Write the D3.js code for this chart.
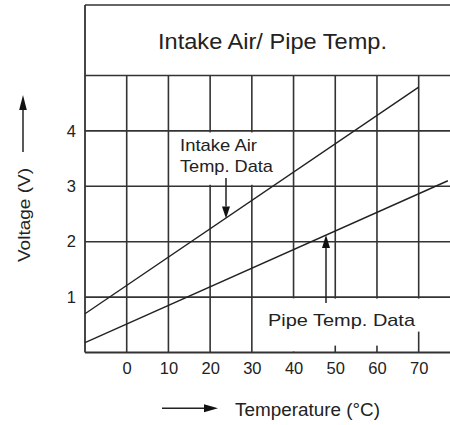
<!DOCTYPE html>
<html><head><meta charset="utf-8">
<script src="https://cdn.jsdelivr.net/npm/d3@7"></script>
<style>
html,body{margin:0;padding:0;background:#fff;}
svg text{font-family:"Liberation Sans",Arial,Helvetica,sans-serif;fill:#222;}
</style></head>
<body><svg id="c" width="450" height="425"></svg>
<script>
const title = "Intake Air/ Pipe Temp.";
const xLabel = "Temperature (°C)";
const yLabel = "Voltage (V)";
const xTicks = [0, 10, 20, 30, 40, 50, 60, 70];
const xGrid = [0, 10, 20, 30, 40, 50, 60, 70];
const yTicks = [1, 2, 3, 4];
const intakeTemp = [-10, 70];
const intakeVolt = [0.70, 4.79];
const pipeTemp = [-10, 77];
const pipeVolt = [0.18, 3.10];
const intakeLabel = ["Intake Air", "Temp. Data"];
const pipeLabel = "Pipe Temp. Data";

const svg = d3.select("#c");
const x = d3.scaleLinear().domain([-10, 80]).range([85, 85 + 90 * 4.171]);
const y = d3.scaleLinear().domain([0, 5]).range([352.5, 75.5]);
const stroke = "#333";
const W = 450;

// grid
const g = svg.append("g");
g.selectAll("line.v").data(xGrid).join("line").attr("class", "v")
  .attr("x1", d => x(d)).attr("x2", d => x(d))
  .attr("y1", y(5)).attr("y2", y(0))
  .attr("stroke", stroke).attr("stroke-width", 1.6);
g.selectAll("line.h").data(yTicks.concat([5])).join("line").attr("class", "h")
  .attr("x1", x(-10)).attr("x2", W)
  .attr("y1", d => y(d)).attr("y2", d => y(d))
  .attr("stroke", stroke).attr("stroke-width", 1.6);

// white label backgrounds that cut the grid
const bg = svg.append("g");
bg.append("rect").attr("fill", "#fff").attr("x", 175).attr("y", y(4) + 1.5).attr("width", 110).attr("height", y(3) - y(4) - 3);
bg.append("rect").attr("fill", "#fff").attr("x", 262).attr("y", y(1) + 1.5).attr("width", 150).attr("height", 47);
bg.append("rect").attr("fill", "#fff").attr("x", 262).attr("y", y(1) + 1.5).attr("width", 40).attr("height", y(0) - y(1) - 2.5);
bg.append("rect").attr("fill", "#fff").attr("x", 410).attr("y", y(1) + 1.5).attr("width", 14).attr("height", 33);

// title box
svg.append("line").attr("x1", x(-10)).attr("x2", W).attr("y1", 5).attr("y2", 5)
  .attr("stroke", stroke).attr("stroke-width", 1.6);
svg.append("line").attr("x1", x(-10)).attr("x2", x(-10)).attr("y1", 5).attr("y2", y(0))
  .attr("stroke", stroke).attr("stroke-width", 1.8);
svg.append("line").attr("x1", x(-10)).attr("x2", W).attr("y1", y(0)).attr("y2", y(0))
  .attr("stroke", stroke).attr("stroke-width", 1.8);
svg.append("text").attr("x", 158).attr("y", 48.5).attr("font-size", 21.5)
  .attr("textLength", 229).attr("lengthAdjust", "spacingAndGlyphs").text(title);

// axes labels via d3 axes (no domain/ticks lines drawn)
const xAxis = svg.append("g").attr("transform", `translate(0,${y(0)})`)
  .call(d3.axisBottom(x).tickValues(xTicks).tickFormat(d3.format("d")).tickSize(0).tickPadding(10));
xAxis.select(".domain").remove();
xAxis.selectAll("text").attr("font-size", 16.5).attr("font-family", null).attr("fill", "#222")
  .attr("dy", "0.71em");
const yAxis = svg.append("g").attr("transform", `translate(${x(-10)},0)`)
  .call(d3.axisLeft(y).tickValues(yTicks).tickFormat(d3.format("d")).tickSize(0).tickPadding(9));
yAxis.select(".domain").remove();
yAxis.selectAll("text").attr("font-size", 16.5).attr("font-family", null).attr("fill", "#222");

// data lines
const line = d3.line().x(d => x(d[0])).y(d => y(d[1]));
svg.append("path").datum(d3.zip(intakeTemp, intakeVolt)).attr("d", line)
  .attr("fill", "none").attr("stroke", "#222").attr("stroke-width", 1.4);
svg.append("path").datum(d3.zip(pipeTemp, pipeVolt)).attr("d", line)
  .attr("fill", "none").attr("stroke", "#222").attr("stroke-width", 1.4);

// arrows helper
function arrow(x1, y1, x2, y2, len, hw) {
  const a = Math.atan2(y2 - y1, x2 - x1);
  const bx = x2 - len * Math.cos(a), by = y2 - len * Math.sin(a);
  svg.append("line").attr("x1", x1).attr("y1", y1).attr("x2", bx).attr("y2", by)
    .attr("stroke", "#222").attr("stroke-width", 1.5);
  const px = -Math.sin(a) * hw, py = Math.cos(a) * hw;
  svg.append("path").attr("d", `M${x2},${y2}L${bx + px},${by + py}L${bx - px},${by - py}Z`).attr("fill", "#111");
}

// annotations
const t1 = svg.append("g");
t1.append("text").attr("x", 180).attr("y", 150.5).attr("font-size", 17)
  .attr("textLength", 77).attr("lengthAdjust", "spacingAndGlyphs").text(intakeLabel[0]);
t1.append("text").attr("x", 180).attr("y", 171.5).attr("font-size", 17)
  .attr("textLength", 93).attr("lengthAdjust", "spacingAndGlyphs").text(intakeLabel[1]);
arrow(226, 178, 226, 218.5, 12, 4);

svg.append("text").attr("x", 268).attr("y", 326).attr("font-size", 17)
  .attr("textLength", 147).attr("lengthAdjust", "spacingAndGlyphs").text(pipeLabel);
arrow(326, 303, 326, 235, 13, 4);

// axis titles
svg.append("text").attr("x", 235).attr("y", 416).attr("font-size", 17.5)
  .attr("textLength", 145).attr("lengthAdjust", "spacingAndGlyphs").text(xLabel);
arrow(162, 408.3, 218, 408.3, 14, 4);

svg.append("text").attr("transform", "translate(30,262) rotate(-90)").attr("font-size", 17)
  .attr("textLength", 94).attr("lengthAdjust", "spacingAndGlyphs").text(yLabel);
arrow(23, 152, 23, 95, 15, 3.8);
</script></body></html>
